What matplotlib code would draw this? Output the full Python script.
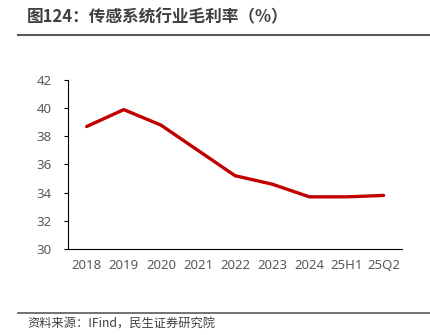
import matplotlib.pyplot as plt
from matplotlib.lines import Line2D

plt.rcParams['font.family'] = ['Noto Sans CJK SC', 'DejaVu Sans']

# data
periods = ['2018', '2019', '2020', '2021', '2022', '2023', '2024', '25H1', '25Q2']
gross_margin = [38.7, 39.9, 38.8, 37.0, 35.2, 34.6, 33.7, 33.7, 33.8]
y_ticks = [30, 32, 34, 36, 38, 40, 42]

fig = plt.figure(figsize=(4.31, 3.35), dpi=100)
ax = fig.add_axes([0.158, 0.257, 0.775, 0.504])

x = list(range(len(periods)))
ax.plot(x, gross_margin, color='#C00000', linewidth=2.4, solid_capstyle='round')

ax.set_xlim(-0.5, len(periods) - 0.5)
ax.set_ylim(30, 42)
ax.set_yticks(y_ticks)
ax.set_xticks(x)
ax.set_xticklabels(periods)

for side in ['top', 'right']:
    ax.spines[side].set_visible(False)
for side in ['left', 'bottom']:
    ax.spines[side].set_color('#000000')
    ax.spines[side].set_linewidth(0.8)

ax.tick_params(axis='y', length=3, width=0.8, colors='#000000', labelcolor='#595959',
               labelsize=9.5, pad=9)
ax.tick_params(axis='x', length=0, labelcolor='#595959', labelsize=9.5, pad=7)
for lbl in ax.get_xticklabels() + ax.get_yticklabels():
    lbl.set_family(['Noto Sans', 'DejaVu Sans'])

# title and source
fig.text(27 / 431, 1 - 17 / 335, '图124：传感系统行业毛利率（%）', fontsize=12,
         fontweight='bold', color='#404040', va='center', ha='left')
fig.add_artist(Line2D([18 / 431, 430 / 431], [1 - 34.5 / 335] * 2,
                      transform=fig.transFigure, color='#595959', linewidth=1.5))
fig.add_artist(Line2D([18 / 431, 430 / 431], [1 - 313 / 335] * 2,
                      transform=fig.transFigure, color='#595959', linewidth=1.2))
fig.text(27 / 431, 1 - 324 / 335, '资料来源：IFind，民生证券研究院', fontsize=8.8,
         color='#404040', va='center', ha='left')

fig.savefig('out.png', dpi=100)
